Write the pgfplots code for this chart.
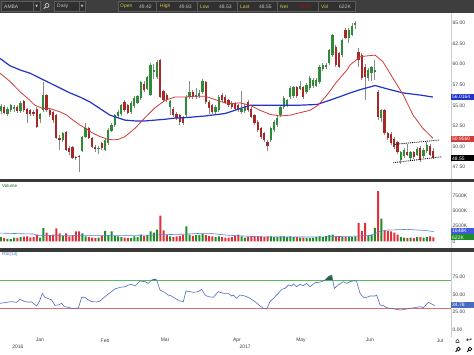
\documentclass[border=0pt]{standalone}
\usepackage{pgfplots}
\pgfplotsset{compat=1.18}
\usepackage{pgfplotstable}
\usepackage{fontspec}
\setmainfont{Liberation Sans}
\newfontfamily\sym{DejaVu Sans}
\definecolor{tbar}{HTML}{3E3E3E}
\definecolor{field}{HTML}{303030}
\definecolor{fedge}{HTML}{5C5C5C}
\definecolor{cgreen}{HTML}{2E8B36}
\definecolor{cred}{HTML}{A82828}
\definecolor{vgreen}{HTML}{1E8C28}
\definecolor{vred}{HTML}{E0303A}
\definecolor{wick}{HTML}{8A8A8A}
\definecolor{maRed}{HTML}{D03A3A}
\definecolor{maBlue}{HTML}{2233CC}
\definecolor{volma}{HTML}{5B7FD6}
\definecolor{rsiline}{HTML}{4A6CC0}
\definecolor{rsigreen}{HTML}{5CB85C}
\definecolor{rsired}{HTML}{E07070}
\definecolor{rsifill}{HTML}{1F6B2B}
\definecolor{lab}{HTML}{404040}
\definecolor{qyellow}{HTML}{D8C840}
\definecolor{qgray}{HTML}{C4C4C4}
\definecolor{sep}{HTML}{3A3A3A}
\newcommand\tf{\fontsize{5}{6}\selectfont}
\tikzset{vbox/.style={anchor=west, text=white, font=\tf, inner xsep=1bp, inner ysep=0.4bp,
  minimum height=6bp, text width=21bp, align=left}}
\pgfplotstableread{
i o h l c v
0 54.3 55.2 54.0 54.9 700
1 54.8 55.0 53.9 54.1 500
2 53.9 54.8 53.7 54.6 400
3 54.4 55.2 54.2 55.0 350
4 54.5 55.0 54.2 54.8 600
5 54.8 55.0 54.1 54.3 550
6 54.3 55.5 54.1 55.3 700
7 55.5 55.7 54.2 54.4 750
8 54.5 54.7 52.9 54.0 800
9 54.4 54.6 53.7 53.9 650
10 54.2 54.4 53.7 53.9 700
11 54.6 54.8 52.3 52.4 1100
12 53.3 54.1 52.9 53.9 600
13 54.4 57.8 54.2 56.2 2200
14 56.2 56.4 54.2 54.4 1400
15 54.4 54.6 53.6 53.8 1000
16 54.2 54.3 52.9 53.2 1100
17 53.8 54.0 50.9 51.0 2100
18 51.0 51.4 49.6 50.8 1300
19 50.8 51.8 50.6 51.6 900
20 51.7 51.9 49.5 49.6 1300
21 49.8 50.0 49.0 49.3 800
22 49.9 50.1 48.5 48.6 1000
23 48.7 48.9 48.4 48.6 1600
24 48.9 49.0 46.9 48.7 1600
25 49.5 51.3 49.3 51.1 1300
26 51.2 52.8 51.0 52.3 800
27 52.2 52.4 50.9 51.0 700
28 51.0 51.1 49.8 49.9 600
29 49.9 50.2 49.3 49.7 500
30 49.7 50.1 49.1 49.8 600
31 50.4 50.6 49.6 49.8 900
32 49.6 51.0 49.4 50.8 1700
33 50.4 52.2 50.2 52.0 1000
34 51.9 52.8 51.7 52.6 1600
35 52.6 54.0 52.4 53.8 900
36 53.7 54.4 53.5 54.2 800
37 53.9 55.2 53.7 55.0 700
38 55.4 55.6 54.2 54.4 600
39 55.0 55.2 53.9 54.1 500
40 54.2 55.5 54.0 55.3 500
41 54.9 56.1 54.7 55.9 800
42 55.3 56.3 55.1 56.1 700
43 55.9 58.0 55.7 57.8 1100
44 57.6 57.9 56.6 56.8 900
45 57.0 58.6 56.8 58.4 1000
46 56.3 60.1 56.1 59.9 1600
47 59.0 60.0 58.2 59.3 1400
48 58.4 60.5 58.2 60.3 1900
49 60.5 60.6 55.9 56.0 4200
50 56.7 56.9 55.5 55.7 1800
51 56.3 56.5 55.4 55.6 1000
52 54.8 55.7 53.8 55.5 800
53 54.6 54.8 53.6 53.8 700
54 54.0 54.2 53.2 53.4 800
55 53.8 54.0 52.6 53.0 900
56 53.5 53.7 52.6 52.8 1100
57 53.8 56.2 53.6 56.0 2450
58 56.0 57.9 55.8 56.6 1100
59 56.6 56.9 55.8 56.0 900
60 56.0 57.1 55.8 56.3 1000
61 56.1 56.8 55.9 56.5 1000
62 56.6 58.2 56.4 58.0 1200
63 57.8 58.0 55.2 55.4 1000
64 55.4 55.6 53.9 54.7 900
65 55.0 55.2 54.0 54.2 800
66 54.2 55.0 54.0 54.8 700
67 54.4 56.2 54.2 56.0 800
68 56.3 56.5 55.4 55.6 700
69 56.0 56.2 55.1 55.3 600
70 55.6 55.8 54.8 55.0 600
71 55.3 55.5 54.6 54.8 700
72 55.2 55.4 54.4 54.6 900
73 55.0 55.2 54.2 54.4 1100
74 54.2 56.7 54.0 54.6 800
75 54.3 55.1 54.1 54.9 600
76 55.4 55.6 54.2 54.4 700
77 54.6 54.8 53.4 53.6 800
78 53.8 54.0 52.6 52.8 800
79 53.0 53.2 51.8 52.0 800
80 52.2 52.4 50.9 51.1 800
81 51.6 51.8 50.6 50.8 700
82 50.6 50.8 49.5 50.0 800
83 50.8 52.4 50.6 52.2 800
84 52.0 53.2 51.8 53.0 700
85 52.6 53.7 52.4 53.5 700
86 53.8 55.0 53.6 54.8 800
87 54.8 56.1 54.6 55.9 800
88 55.0 55.8 54.8 55.6 700
89 56.0 57.3 55.8 57.1 800
90 56.1 57.4 55.9 57.2 700
91 57.2 57.4 55.9 56.1 700
92 57.0 58.0 56.8 57.4 600
93 57.2 57.4 55.8 56.0 600
94 56.6 57.7 56.4 57.5 500
95 57.1 58.5 56.9 58.3 500
96 57.3 58.3 57.1 58.1 600
97 57.4 58.3 57.2 58.1 700
98 57.8 59.9 57.6 59.7 800
99 59.4 60.1 59.2 59.9 700
100 59.6 60.1 59.4 59.9 900
101 60.1 61.9 59.9 61.7 1000
102 61.1 63.7 60.9 63.5 1100
103 62.1 62.3 59.7 59.9 800
104 61.3 61.5 59.5 59.7 800
105 61.1 63.1 60.9 62.9 700
106 64.2 64.4 63.0 63.2 700
107 63.2 64.4 62.6 64.2 700
108 63.6 65.0 63.4 64.6 700
109 64.8 65.3 64.3 65.0 800
110 61.5 62.0 59.6 60.5 3000
111 61.1 61.3 58.1 58.3 1700
112 59.7 60.0 55.6 58.4 3000
113 58.3 59.5 57.9 59.3 900
114 58.9 59.8 58.0 59.6 1100
115 59.0 60.5 58.1 59.3 2200
116 56.6 56.8 53.2 53.6 8200
117 53.4 54.6 53.0 54.4 3700
118 54.4 54.6 51.4 51.6 1700
119 51.6 51.8 50.8 51.0 1650
120 51.5 51.7 50.2 50.4 1600
121 50.9 51.1 49.7 49.9 1400
122 50.5 50.7 49.1 49.3 1100
123 48.3 49.5 47.9 49.3 700
124 48.8 49.8 48.6 49.6 600
125 49.3 50.3 48.8 49.0 500
126 48.6 49.5 48.4 49.3 600
127 49.3 49.5 48.5 48.7 500
128 49.0 49.9 48.8 49.7 700
129 49.8 50.0 48.1 48.3 700
130 48.8 49.8 48.6 49.6 600
131 49.4 50.6 49.2 50.2 700
132 50.0 50.3 48.8 49.0 800
133 49.42 49.83 48.53 48.55 622
}\candles
\begin{document}
\begin{tikzpicture}[x=1bp,y=1bp]
\useasboundingbox (0,0) rectangle (474,354);
\fill[white] (0,0) rectangle (474,354);
% ---------- toolbar
\fill[tbar] (0,341) rectangle (474,354);
\draw[fedge, fill=field, line width=0.4bp] (1.5,342.5) rectangle (33.5,352.5);
\node[anchor=west, font=\tf, text=qgray, inner sep=0pt] at (4,347.5) {AMBA};
\draw[fedge, fill=field, line width=0.4bp] (33.5,342.5) rectangle (40,352.5);
\node[font=\sym\fontsize{3.5}{4}\selectfont, text=qgray, inner sep=0pt] at (36.8,347.3) {▼};
\draw[qgray, line width=0.7bp] (47,348.5) circle (2);
\draw[qgray, line width=0.9bp] (45.6,347.1) -- (43.8,345.3);
\draw[fedge, fill=field, line width=0.4bp] (54.5,342.5) rectangle (79,352.5);
\node[anchor=west, font=\tf, text=qgray, inner sep=0pt] at (57,347.5) {Daily};
\draw[fedge, fill=field, line width=0.4bp] (79,342.5) rectangle (85.5,352.5);
\node[font=\sym\fontsize{3.5}{4}\selectfont, text=qgray, inner sep=0pt] at (82.3,347.3) {▼};
\draw[fedge, fill=field, line width=0.4bp] (118,342.5) rectangle (355,352.5);
\foreach \sx in {156,197,237,277,318} {\draw[fedge, line width=0.5bp] (\sx,342.5) -- (\sx,352.5);}
\begin{scope}[every node/.style={anchor=west, font=\tf, inner sep=0pt}]
\node[text=qyellow] at (120,347.5) {Open};
\node[text=qgray] at (139,347.5) {49.42};
\node[text=qyellow] at (160,347.5) {High};
\node[text=qgray] at (179,347.5) {49.83};
\node[text=qyellow] at (200,347.5) {Low};
\node[text=qgray] at (219,347.5) {48.53};
\node[text=qyellow] at (240,347.5) {Last};
\node[text=qgray] at (259,347.5) {48.55};
\node[text=qyellow] at (280,347.5) {Net};
\node[text=red!80!black] at (299,347.5) {-0.57};
\node[text=qyellow] at (321,347.5) {Vol};
\node[text=qgray] at (339,347.5) {622K};
\end{scope}
% ---------- separators
\fill[sep] (0,171.7) rectangle (474,174.8);
\fill[sep] (0,102.5) rectangle (474,106);
\draw[black!20, line width=0.5bp] (451,17) -- (451,102.5);
\draw[black!20, line width=0.5bp] (451,106) -- (451,171.7);
\draw[black!20, line width=0.5bp] (451,174.8) -- (451,341);
\pgfplotsset{panel/.style={scale only axis, width=451bp, xmin=-0.3077, xmax=138.46,
  axis line style={draw=none}, major tick length=0pt, clip mode=individual,
  at={(0,0)}, anchor=south west,
  tick label style={font=\tf, text=lab}, yticklabel pos=right,
  yticklabel style={anchor=west, inner sep=1.5bp}, xtick=\empty}}
% ---------- price panel
\begin{scope}[shift={(0bp,175bp)}]
\begin{axis}[panel, height=166bp, ymin=46.045, ymax=66.215,
  ytick={47.5,50,52.5,55,57.5,60,62.5,65},
  yticklabels={47.50,50.00,52.50,55.00,57.50,60.00,62.50,65.00}]
\addplot[wick, line width=0.55bp, quiver={u=0, v=\thisrow{h}-\thisrow{l}}] table[x=i, y=l] \candles;
\addplot[cgreen, line width=2.2bp, quiver={u=0, v={max(abs(\thisrow{c}-\thisrow{o}),0.08)}},
  restrict expr to domain={\thisrow{c}-\thisrow{o}}{0:100}]
  table[x=i, y expr={min(\thisrow{o},\thisrow{c})}] \candles;
\addplot[cred, line width=2.2bp, quiver={u=0, v={max(abs(\thisrow{c}-\thisrow{o}),0.08)}},
  restrict expr to domain={\thisrow{c}-\thisrow{o}}{-100:-0.0001}]
  table[x=i, y expr={min(\thisrow{o},\thisrow{c})}] \candles;
\addplot[maBlue, line width=1.2bp] coordinates {(-0.31,60.7) (2.77,59.8) (5.85,59.3) (8.92,58.9) (12.0,58.3) (15.08,57.7) (18.15,57.1) (21.23,56.5) (24.31,56.0) (27.38,55.4) (30.46,54.6) (33.54,53.8) (35.08,53.6) (38.15,53.2) (41.23,53.1) (44.31,53.1) (47.38,53.2) (50.46,53.3) (53.54,53.45) (56.62,53.5) (59.69,53.6) (62.77,53.7) (65.85,53.85) (68.92,54.0) (70.46,54.2) (73.54,54.6) (76.62,55.0) (80.62,55.0) (91.08,55.0) (97.23,55.1) (100.3,55.5) (104.3,56.05) (107.4,56.5) (110.5,56.9) (115.1,57.4) (119.7,56.9) (123.7,56.5) (128.9,56.25) (132.9,56.0)};
\addplot[maRed, line width=0.8bp] coordinates {(-0.31,58.9) (2.77,57.9) (5.85,56.65) (8.92,55.6) (10.46,55.0) (12.92,54.6) (15.08,54.6) (16.62,54.4) (18.15,54.2) (20.31,53.8) (22.15,53.2) (24.31,52.6) (26.46,52.1) (28.31,51.6) (30.46,51.2) (32.62,50.9) (34.46,50.8) (36.0,50.85) (38.15,51.2) (41.23,52.2) (44.31,53.5) (47.38,54.7) (50.46,55.6) (53.54,56.0) (56.62,56.0) (59.69,56.1) (62.77,56.1) (65.85,55.7) (68.92,55.3) (71.38,55.2) (73.54,55.3) (76.62,55.0) (79.69,54.4) (82.77,53.9) (85.85,53.7) (88.92,53.8) (92.0,54.1) (95.08,54.4) (97.54,55.0) (100.3,56.25) (103.4,57.9) (106.46,59.3) (107.4,59.9) (110.5,60.9) (112.6,61.0) (115.1,61.1) (117.5,60.3) (120.6,58.3) (123.7,56.3) (126.8,53.8) (129.8,52.2) (132.9,51.0)};
\addplot[black, densely dotted, line width=0.9bp] coordinates {(121.2,50.26) (134.8,50.78)};
\addplot[black, densely dotted, line width=0.9bp] coordinates {(120.7,48.02) (135.6,48.75)};
\node[vbox, fill=maBlue] at (axis cs:138.46,56.0164) {56.0164};
\node[vbox, fill=maRed] at (axis cs:138.46,50.956) {50.9560};
\node[vbox, fill=black] at (axis cs:138.46,48.55) {48.55};
\end{axis}
\end{scope}
% ---------- volume panel
\begin{scope}[shift={(0bp,106bp)}]
\begin{axis}[panel, height=65.7bp, ymin=-1095, ymax=9624,
  ytick={0,2500,5000,7500}, yticklabels={0,2500K,5000K,7500K}]
\addplot[ybar, bar width=2bp, bar shift=0pt, fill=vgreen, draw=none,
  restrict expr to domain={\thisrow{c}-\thisrow{o}}{0:100}] table[x=i, y=v] \candles;
\addplot[ybar, bar width=2bp, bar shift=0pt, fill=vred, draw=none,
  restrict expr to domain={\thisrow{c}-\thisrow{o}}{-100:-0.0001}] table[x=i, y=v] \candles;
\addplot[volma, line width=0.6bp] coordinates {(-0.31,1340) (10.0,1180) (11.1,960) (30.5,960) (40.6,960) (49.0,1060) (57.2,1180) (61.2,1290) (64.3,1290) (69.5,1000) (78.8,740) (89.2,690) (99.4,720) (109.5,850) (113.8,960) (116.9,1670) (118.8,1830) (124.9,1940) (130.2,1780) (133.2,1600)};
\node[vbox, fill=volma!70!blue] at (axis cs:138.46,1648) {1648K};
\node[vbox, fill=vgreen] at (axis cs:138.46,622) {622K};
\end{axis}
\end{scope}
\node[anchor=west, font=\fontsize{4.5}{5}\selectfont, text=vgreen!80!black, inner sep=0pt] at (2,168) {Volume};
% ---------- RSI panel
\begin{scope}[shift={(0bp,17bp)}]
\begin{axis}[panel, height=85.5bp, ymin=-9.85, ymax=110.4,
  ytick={0,25,50,75}, yticklabels={0.00,25.00,50.00,75.00},
  xtick={12,32,50.5,72.6,92.3,113.5,135.1}, xticklabels={Jan,Feb,Mar,Apr,May,Jun,Jul},
  xticklabel style={inner sep=1.2bp},
  extra x ticks={5.2,75.1}, extra x tick labels={2016,2017},
  extra x tick style={major tick length=0pt, tick label style={yshift=-6.5bp}}]
\addplot[rsigreen, line width=0.6bp] coordinates {(-0.3077,70) (138.46,70)};
\addplot[rsired, line width=0.6bp] coordinates {(-0.3077,30) (138.46,30)};
\addplot[fill=rsifill, draw=none] coordinates {(46.3,70) (46.36,70.3) (47.38,71.7) (47.9,70.3) (47.92,70)} -- cycle;
\addplot[fill=rsifill, draw=none] coordinates {(99.6,70) (99.69,70.3) (100.7,75.0) (101.74,77.3) (102.06,70)} -- cycle;
\addplot[rsiline, line width=0.6bp] coordinates {(-0.3,37.5) (1.74,38.9) (3.28,39.9) (4.82,38.9) (5.85,43.1) (6.87,40.8) (7.9,39.4) (9.44,39.4) (9.95,37.5) (10.97,33.8) (11.8,39.9) (12.72,51.6) (13.54,46.0) (14.87,43.6) (15.59,42.2) (16.6,34.7) (17.64,35.2) (18.67,37.5) (19.49,32.8) (20.72,31.9) (21.74,30.5) (22.77,30.5) (23.8,31.0) (24.82,46.0) (25.85,46.0) (26.87,42.2) (27.9,39.9) (29.44,39.4) (30.46,40.8) (32.0,46.9) (33.54,52.5) (35.08,57.7) (36.6,60.0) (38.15,60.9) (39.18,63.3) (40.2,64.2) (41.23,61.9) (42.77,68.9) (44.3,68.0) (45.33,65.6) (46.36,70.3) (47.38,71.7) (47.9,70.3) (48.92,56.2) (50.46,52.5) (51.49,49.2) (52.51,47.8) (53.54,44.5) (55.08,40.8) (56.1,39.9) (56.92,54.9) (58.15,53.9) (59.18,53.0) (60.72,53.9) (61.74,57.2) (62.77,49.2) (63.79,46.9) (65.33,46.0) (66.87,53.9) (68.41,51.6) (69.95,51.6) (70.97,47.8) (71.49,49.2) (72.51,44.5) (73.54,49.2) (75.08,47.8) (76.62,44.5) (78.15,39.9) (79.69,33.8) (80.72,30.5) (81.74,29.5) (82.77,39.9) (83.79,44.5) (85.33,51.6) (86.36,57.2) (87.38,58.6) (88.41,63.3) (89.44,61.9) (89.95,64.7) (90.97,60.9) (92.0,64.2) (93.03,62.3) (94.05,65.6) (95.08,60.9) (96.62,66.6) (97.64,67.0) (98.67,68.0) (99.69,70.3) (100.7,75.0) (101.74,77.3) (102.56,58.6) (103.79,63.3) (105.33,68.0) (106.36,65.6) (107.38,68.0) (108.92,69.5) (109.44,68.0) (110.46,51.6) (111.49,46.0) (112.51,46.0) (113.54,47.8) (115.08,47.8) (115.59,49.2) (116.62,35.2) (117.64,34.3) (118.67,31.4) (120.2,30.0) (121.74,29.1) (122.77,28.1) (124.31,29.1) (125.85,30.5) (127.38,31.4) (128.92,32.8) (129.95,31.4) (131.49,38.9) (132.51,36.6) (133.54,34.3)};
\node[vbox, fill=rsiline] at (axis cs:138.46,34.78) {34.78};
\end{axis}
\end{scope}
\node[anchor=west, font=\fontsize{4.5}{5}\selectfont, text=rsiline, inner sep=0pt] at (2,100) {RSI(14)};
% ---------- corner icons
\node[font=\sym\fontsize{7}{7}\selectfont, inner sep=0pt] at (457.5,13) {⌂};
\node[font=\sym\fontsize{7}{7}\selectfont, inner sep=0pt] at (469,13) {↩};
\draw[line width=0.7bp] (458.5,5) circle (1.8);
\draw[line width=0.9bp] (457.2,3.7) -- (455.6,2.1);
\draw[line width=0.7bp] (470,5) circle (1.8);
\draw[line width=0.9bp] (468.7,3.7) -- (467.1,2.1);
\end{tikzpicture}
\end{document}
